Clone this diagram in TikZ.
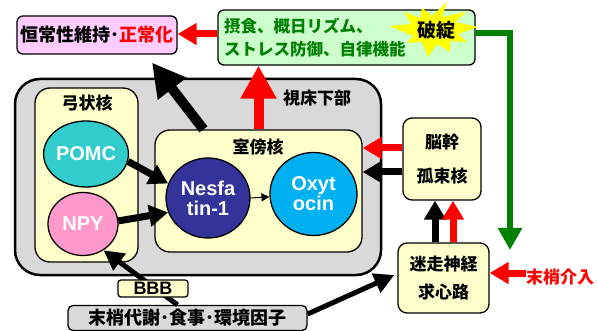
\documentclass[tikz,border=0pt]{standalone}
\usepackage{fontspec}
\setmainfont{Liberation Sans}
\newfontfamily\jp{Noto Sans CJK JP}
\usetikzlibrary{arrows.meta,shapes.geometric}
\definecolor{pinkfill}{RGB}{255,204,255}
\definecolor{greenfill}{RGB}{204,255,204}
\definecolor{dgreen}{RGB}{0,128,0}
\definecolor{yfill}{RGB}{255,255,204}
\definecolor{gfill}{RGB}{217,217,217}
\definecolor{pomcc}{RGB}{51,204,204}
\definecolor{npyc}{RGB}{255,153,204}
\definecolor{nesc}{RGB}{51,51,153}
\definecolor{oxyc}{RGB}{0,176,240}
\definecolor{starc}{RGB}{255,255,0}
\begin{document}
\begin{tikzpicture}[x=1pt,y=-1pt,
  box/.style={draw=black, line width=1.3pt, rounded corners=6pt, inner sep=0pt},
  jpl/.style={font=\jp\bfseries\fontsize{17}{20}\selectfont},
  jpm/.style={font=\jp\bfseries\fontsize{18}{20}\selectfont},
  ell/.style={ellipse, draw=black, line width=1.3pt, inner sep=0pt, text=white,
    font=\bfseries\fontsize{20}{22}\selectfont, align=center},
  bigarr/.style={line width=10pt, -{Triangle[length=33pt,width=34pt]}},
  midarr/.style={line width=7pt, -{Triangle[length=19pt,width=21pt]}},
  smallarr/.style={line width=5pt, -{Triangle[length=20pt,width=20pt]}}
]
\useasboundingbox (0,0) rectangle (597,331);
% top boxes
\node[box, fill=pinkfill, minimum width=160pt, minimum height=38pt, jpm] (pink) at (97,35)
  {恒常性維持･\textcolor{red}{正常化}};
\node[box, fill=greenfill, minimum width=257pt, minimum height=55pt] (green) at (346.5,37.5) {};
\node[anchor=west, align=left, text=dgreen, inner sep=0pt,
  font=\jp\bfseries\fontsize{16.5}{23}\selectfont] (gtext) at (224,38)
  {摂食、概日リズム、\\ストレス防御、自律機能};
% burst
\fill[starc] (447,2) -- (442,17) -- (466,12) -- (455,22) -- (478,27) -- (458,34)
  -- (467,42) -- (450,41) -- (450,52) -- (437,44) -- (428,57) -- (422,42)
  -- (407,43) -- (413,36) -- (389,26) -- (411,24) -- (404,12) -- (420,18)
  -- (422,8) -- (432,16) -- cycle;
\node[inner sep=0pt, font=\jp\bfseries\fontsize{19}{20}\selectfont] (star) at (436,30) {破綻};
% hypothalamus
\node[box, fill=gfill, line width=2.5pt, rounded corners=25pt, minimum width=366pt,
  minimum height=196pt] (hyp) at (198,177) {};
\node[jpl] (hyplabel) at (317,98) {視床下部};
\node[box, fill=yfill, rounded corners=15pt, minimum width=103pt, minimum height=174pt] (arc) at (86.5,175) {};
\node[jpl] (arclabel) at (87,103) {弓状核};
\node[box, fill=yfill, rounded corners=15pt, minimum width=207pt, minimum height=122pt] (pvn) at (258.5,191) {};
\node[jpl] (pvnlabel) at (258,147) {室傍核};
\node[ell, fill=pomcc, minimum width=72pt, minimum height=66pt] (pomc) at (86,154) {POMC};
\node[ell, fill=npyc, minimum width=70pt, minimum height=63pt] (npy) at (83,224) {NPY};
\node[ell, fill=nesc, minimum width=84pt, minimum height=80pt] (nes) at (208,198) {Nesfa\\[-2pt]tin-1};
\node[ell, fill=oxyc, minimum width=87pt, minimum height=83pt] (oxy) at (313.5,194) {Oxyt\\[-2pt]ocin};
% brainstem and vagus
\node[box, fill=yfill, rounded corners=9pt, minimum width=78pt, minimum height=82pt, align=center,
  font=\jp\bfseries\fontsize{17}{34}\selectfont] (bs) at (442,159) {脳幹\\孤束核};
\node[box, fill=yfill, rounded corners=9pt, minimum width=91pt, minimum height=70pt, align=center,
  font=\jp\bfseries\fontsize{17}{28}\selectfont] (vag) at (443.5,278) {迷走神経\\求心路};
\node[text=red, jpl, inner sep=0pt] (peri) at (560,277) {末梢介入};
% bottom
\node[box, fill=gfill, rounded corners=5pt, minimum width=239pt, minimum height=25pt, jpm] (bottom) at (187.5,318) {末梢代謝･食事･環境因子};
% arrows
\draw[red, midarr] ([yshift=3.5pt]green.west) -- ([yshift=3.5pt]green.west -| pink.east);
\coordinate (gend) at (510,250);
\draw[dgreen, line width=6pt, -{Triangle[length=22pt,width=23pt]}] ([yshift=4pt]green.east) -| (gend);
\draw[red, bigarr] (pvn.north) -- (pvn.north |- green.south);
\draw[black, bigarr] ([xshift=-55pt]pvn.north) -- ([xshift=55pt,yshift=-8pt]pink.south);
\draw[black, midarr] (pomc.-10) -- (nes.160);
\draw[black, midarr] (npy.5) -- (nes.200);
\draw[black, line width=1pt, -{Triangle[length=8pt,width=8pt]}] (nes.east) -- (oxy);
\draw[red, midarr] ([yshift=11pt]bs.west) -- ([yshift=11pt]bs.west -| pvn.east);
\draw[black, midarr] ([yshift=-13pt]bs.west) -- ([yshift=-13pt]bs.west -| pvn.east);
\draw[black, midarr] ([xshift=-8.5pt]vag.north) -- ([xshift=-8.5pt]vag.north |- bs.south);
\draw[red, midarr] ([xshift=9.5pt]vag.north) -- ([xshift=9.5pt]vag.north |- bs.south);
\draw[red, midarr] ([yshift=4pt]peri.west) -- ([yshift=4pt]peri.west -| vag.east);
\draw[black, smallarr] ([yshift=4pt]bottom.east) -- ([xshift=-3pt,yshift=3pt]vag.west);
\draw[black, smallarr] ([xshift=-10pt]bottom.north) -- (npy.-52);
\node[box, fill=yfill, rounded corners=3pt, minimum width=70pt, minimum height=17pt,
  font=\bfseries\fontsize{18}{18}\selectfont] (bbb) at (153,288.5) {BBB};
\end{tikzpicture}
\end{document}
